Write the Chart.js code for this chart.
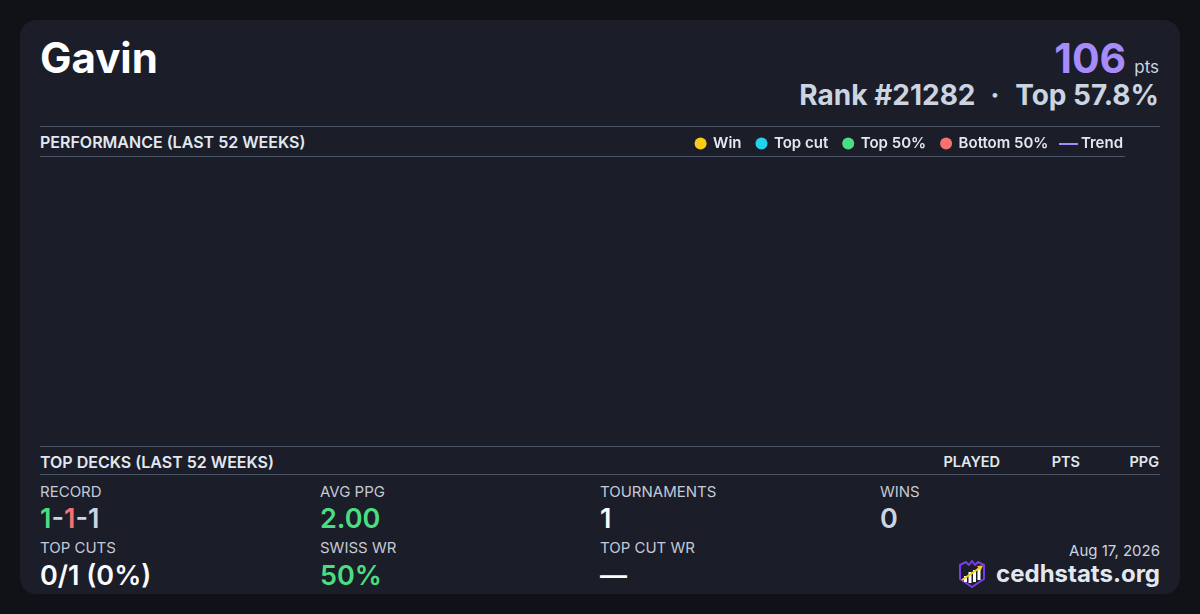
<!DOCTYPE html>
<html>
<head>
<meta charset="utf-8">
<script src="https://cdn.jsdelivr.net/npm/chart.js@4.4.0/dist/chart.umd.min.js"></script>
<style>
  html,body{margin:0;padding:0;background:#111218;width:1200px;height:614px;overflow:hidden;font-family:Inter,"Noto Sans",sans-serif;}
  .card{position:absolute;left:20px;top:20px;width:1160px;height:574px;background:#1b1d29;border-radius:16px;}
  .t{position:absolute;line-height:1;white-space:nowrap;}
  .hr{position:absolute;height:1px;background:#4a5568;}
  .lbl{font-size:15px;color:#c4cad6;font-weight:400;}
  .val{font-size:27px;font-weight:600;}
  .hdr{font-size:16px;font-weight:600;color:#e2e8f0;}
  .col{font-size:14.5px;font-weight:600;color:#e2e8f0;}
  #chartWrap{position:absolute;left:40px;top:121px;width:1098px;height:322px;}
</style>
</head>
<body>
<div class="card"></div>
<div class="t" style="left:40px;top:37px;font-size:42px;font-weight:700;color:#ffffff;">Gavin</div>
<div class="t" style="right:41px;top:38px;text-align:right;">
  <span style="font-size:41px;font-weight:700;color:#a78bfa;">106</span><span style="font-size:17px;color:#cbd5e1;margin-left:8px;">pts</span>
</div>
<div class="t" style="right:41px;top:81px;font-size:28px;font-weight:700;color:#cbd5e1;">Rank #21282 <span style="margin:0 9px 0 8px;">·</span> Top 57.8%</div>

<div class="hr" style="left:40px;top:126px;width:1120px;"></div>
<div class="t hdr" style="left:40px;top:134px;">PERFORMANCE (LAST 52 WEEKS)</div>
<div class="hr" style="left:40px;top:156px;width:1085px;"></div>

<div id="chartWrap"><canvas id="perf"></canvas></div>

<div class="hr" style="left:40px;top:446px;width:1120px;"></div>
<div class="t hdr" style="left:40px;top:454px;">TOP DECKS (LAST 52 WEEKS)</div>
<div class="t col" style="right:200px;top:455px;">PLAYED</div>
<div class="t col" style="right:120px;top:455px;">PTS</div>
<div class="t col" style="right:41px;top:455px;">PPG</div>
<div class="hr" style="left:40px;top:474px;width:1120px;"></div>

<div class="t lbl" style="left:40px;top:484px;">RECORD</div>
<div class="t val" style="left:40px;top:504.5px;"><span style="color:#4ade80">1</span><span style="color:#cbd5e1">-</span><span style="color:#f87171">1</span><span style="color:#cbd5e1">-1</span></div>
<div class="t lbl" style="left:320px;top:484px;">AVG PPG</div>
<div class="t val" style="left:320px;top:504.5px;color:#4ade80;">2.00</div>
<div class="t lbl" style="left:600px;top:484px;">TOURNAMENTS</div>
<div class="t val" style="left:600px;top:504.5px;color:#f8fafc;">1</div>
<div class="t lbl" style="left:880px;top:484px;">WINS</div>
<div class="t val" style="left:880px;top:504.5px;color:#cbd5e1;">0</div>

<div class="t lbl" style="left:40px;top:540px;">TOP CUTS</div>
<div class="t val" style="left:40px;top:561.5px;color:#f8fafc;">0/1 (0%)</div>
<div class="t lbl" style="left:320px;top:540px;">SWISS WR</div>
<div class="t val" style="left:320px;top:561.5px;color:#4ade80;">50%</div>
<div class="t lbl" style="left:600px;top:540px;">TOP CUT WR</div>
<div class="t val" style="left:600px;top:561.5px;color:#f8fafc;">—</div>

<div class="t lbl" style="right:40px;top:542.5px;color:#cbd5e1;">Aug 17, 2026</div>
<svg style="position:absolute;left:957px;top:559px;" width="30" height="30" viewBox="0 0 30 30">
  <path d="M3 6 L9 3 L12 6 L15 2 L18 6 L21 3 L27 6 L27 20 L15 28 L3 20 Z" fill="#1b1d29" stroke="#7c3aed" stroke-width="2" stroke-linejoin="round"/>
  <rect x="7" y="17" width="3" height="6" fill="#ffffff"/>
  <rect x="11.5" y="13" width="3" height="11" fill="#ffffff"/>
  <rect x="16" y="11" width="3" height="12" fill="#ffffff"/>
  <rect x="20.5" y="9" width="3" height="12" fill="#ffffff"/>
  <path d="M5 21 L24 8" stroke="#facc15" stroke-width="2"/>
  <path d="M20 7 L26 6.5 L23.5 12 Z" fill="#facc15"/>
</svg>
<div class="t" style="right:40px;top:561.5px;font-size:24px;font-weight:700;color:#e2e8f0;">cedhstats.org</div>

<script>
// Performance data for the last 52 weeks (no results recorded in the chart)
const weeks = [];
const winPoints = [];
const topCutPoints = [];
const top50Points = [];
const bottom50Points = [];
const trendValues = [];

const seriesNames = ['Win', 'Top cut', 'Top 50%', 'Bottom 50%', 'Trend'];
const seriesColors = ['#facc15', '#22d3ee', '#4ade80', '#f87171', '#a78bfa'];

// line marker for the Trend legend entry
const trendMark = document.createElement('canvas');
trendMark.width = 19; trendMark.height = 2;
const tctx = trendMark.getContext('2d');
tctx.fillStyle = seriesColors[4];
tctx.fillRect(0, 0, 19, 2);

const ds = [winPoints, topCutPoints, top50Points, bottom50Points].map((d, i) => ({
  type: 'scatter',
  label: seriesNames[i],
  data: d,
  backgroundColor: seriesColors[i],
  borderColor: seriesColors[i],
  pointStyle: 'circle'
}));
ds.push({
  type: 'line',
  label: seriesNames[4],
  data: trendValues,
  borderColor: seriesColors[4],
  backgroundColor: seriesColors[4],
  pointStyle: trendMark,
  pointRadius: 0
});

new Chart(document.getElementById('perf'), {
  type: 'line',
  data: { labels: weeks, datasets: ds },
  options: {
    responsive: true,
    maintainAspectRatio: false,
    animation: false,
    layout: { padding: 0 },
    scales: { x: { display: false }, y: { display: false } },
    plugins: {
      tooltip: { enabled: false },
      legend: {
        display: true,
        position: 'top',
        align: 'end',
        labels: {
          usePointStyle: true,
          boxWidth: 10,
          boxHeight: 8.5,
          padding: 15,
          color: '#e2e8f0',
          font: { family: 'Inter', size: 15, weight: '600' },
          generateLabels: (chart) => chart.data.datasets.map((d, i) => ({
            text: d.label,
            fillStyle: seriesColors[i],
            strokeStyle: seriesColors[i],
            lineWidth: 0,
            pointStyle: i === 4 ? trendMark : 'circle',
            hidden: false,
            datasetIndex: i,
            fontColor: '#e2e8f0'
          }))
        }
      }
    }
  }
});
</script>
</body>
</html>
